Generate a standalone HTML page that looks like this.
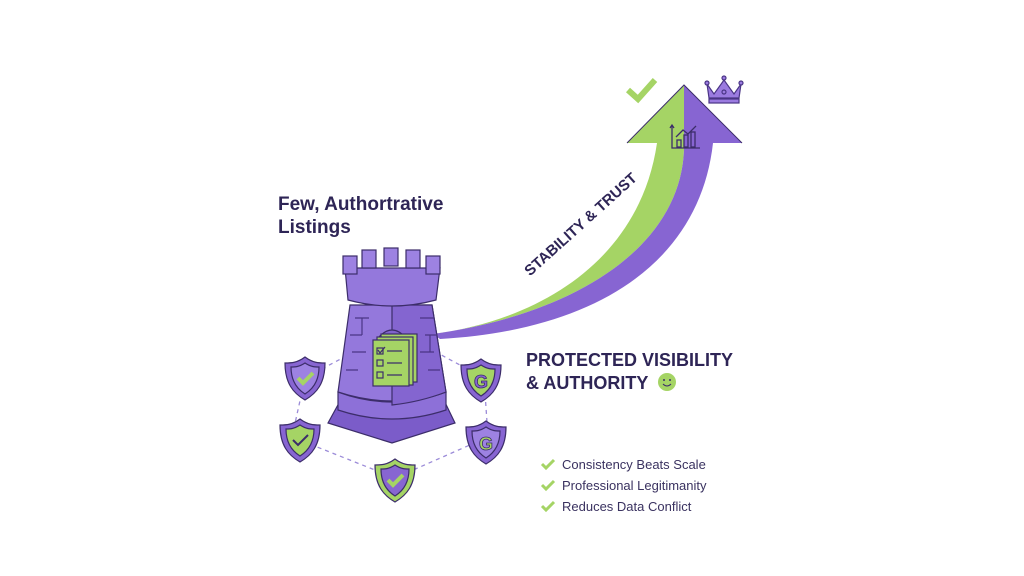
<!DOCTYPE html>
<html><head><meta charset="utf-8"><style>
html,body{margin:0;padding:0;background:#fff;}
svg{display:block;font-family:"Liberation Sans",sans-serif;}
</style></head><body>
<svg width="1024" height="576" viewBox="0 0 1024 576" xmlns="http://www.w3.org/2000/svg">
<rect width="1024" height="576" fill="#fff"/>
<!-- arrow -->
<path d="M433,334 C540,320 640,260 657,143 L627,143 L684,85 L684,150 C680,250 570,315 433,334 Z" fill="#a5d465"/>
<path d="M433,334 C570,315 680,250 684,150 L684,85 L742,143 L713,143 C700,260 600,330 440,339 Z" fill="#8765d2"/>
<path d="M627,143 L684,85 L742,143" fill="none" stroke="#3c2d6a" stroke-width="1"/>
<!-- chart icon -->
<g fill="none" stroke="#3c2d6a" stroke-width="1.3">
<path d="M672,125 V148 H700"/><path d="M670,128 L672,125 L674,128"/>
<rect x="677" y="140" width="4" height="7"/><rect x="684" y="135" width="4" height="12"/><rect x="691" y="132" width="4" height="15"/>
<path d="M676,137 L683,130 L688,134 L696,126"/>
</g>
<!-- check top -->
<path d="M628,90 L638,99 L655,80" fill="none" stroke="#a5d465" stroke-width="6"/>
<!-- crown -->
<g fill="#9b7be0" stroke="#4a3585" stroke-width="1.2">
<path d="M707,84 L714,94 L724,80 L734,94 L741,84 L739,98 L709,98 Z"/>
<rect x="709" y="99" width="30" height="4"/>
<circle cx="707" cy="83" r="2"/><circle cx="724" cy="78" r="2"/><circle cx="741" cy="83" r="2"/>
<circle cx="724" cy="92" r="2"/>
</g>
<text x="0" y="0" transform="translate(584,228) rotate(-42)" text-anchor="middle" font-size="15" font-weight="bold" fill="#2e2556">STABILITY &amp; TRUST</text>
<!-- dashed hexagon -->
<path d="M305,378 L292,437 L395,478 L488,437 L484,378 L395,330 Z" fill="none" stroke="#9b8bd8" stroke-width="1.3" stroke-dasharray="4,4"/>
<!-- tower -->
<g stroke="#3c2d6a" stroke-width="1.2">
<path d="M345,392 L328,423 L392,443 L455,423 L440,392 Z" fill="#7b5cc9"/>
<path d="M338,392 Q392,412 446,392 L446,410 Q392,428 338,410 Z" fill="#8d70d8"/>
<path d="M350,305 L432,305 L446,392 Q392,410 338,392 Z" fill="#9478dc"/>
<path d="M392,305 L392,405 Q420,402 446,392 L432,305 Z" fill="#8465d0"/>
<path d="M345,268 L440,268 L436,300 Q392,312 348,300 Z" fill="#9478dc"/>
<g fill="#9d82e2">
<rect x="343" y="256" width="14" height="18"/><rect x="362" y="250" width="14" height="18"/><rect x="384" y="248" width="14" height="18"/><rect x="406" y="250" width="14" height="18"/><rect x="426" y="256" width="14" height="18"/>
</g>
<path d="M355,318 h14 M350,335 h12 M352,352 h14 M346,370 h12 M420,318 h14 M425,335 h12 M420,352 h14 M428,370 h12 M362,318 v17 M430,335 v17" fill="none" stroke="#4a3585"/>
<path d="M378,338 Q392,322 406,338" fill="#8063cc"/>
<rect x="381" y="334" width="36" height="48" fill="#a5d465"/>
<rect x="377" y="337" width="36" height="48" fill="#a5d465"/>
<rect x="373" y="340" width="36" height="46" fill="#a5d465"/>
<g fill="none" stroke="#3c2d6a"><rect x="377" y="348" width="6" height="6"/><rect x="377" y="360" width="6" height="6"/><rect x="377" y="372" width="6" height="6"/>
<path d="M387,351 h15 M387,363 h15 M387,375 h15"/><path d="M378,350 l2,3 l5,-6"/></g>
</g>
<!-- shields -->
<g stroke="#3c2d6a" stroke-width="1.2">
<g transform="translate(305,378)"><path d="M0,-21 C8,-15 14,-15 20,-15 C20,5 12,15 0,22 C-12,15 -20,5 -20,-15 C-14,-15 -8,-15 0,-21Z" fill="#8765d2"/><path d="M0,-15 C6,-11 10,-11 14,-11 C14,3 8,11 0,16 C-8,11 -14,3 -14,-11 C-10,-11 -6,-11 0,-15Z" fill="#9d82e2"/><path d="M-7,0 L-2,5 L8,-5" fill="none" stroke="#a5d465" stroke-width="4"/></g>
<g transform="translate(300,440)"><path d="M0,-21 C8,-15 14,-15 20,-15 C20,5 12,15 0,22 C-12,15 -20,5 -20,-15 C-14,-15 -8,-15 0,-21Z" fill="#8765d2"/><path d="M0,-15 C6,-11 10,-11 14,-11 C14,3 8,11 0,16 C-8,11 -14,3 -14,-11 C-10,-11 -6,-11 0,-15Z" fill="#a5d465"/><path d="M-7,0 L-2,5 L8,-5" fill="none" stroke="#3c2d6a" stroke-width="2"/></g>
<g transform="translate(395,480)"><path d="M0,-21 C8,-15 14,-15 20,-15 C20,5 12,15 0,22 C-12,15 -20,5 -20,-15 C-14,-15 -8,-15 0,-21Z" fill="#a5d465"/><path d="M0,-15 C6,-11 10,-11 14,-11 C14,3 8,11 0,16 C-8,11 -14,3 -14,-11 C-10,-11 -6,-11 0,-15Z" fill="#8765d2"/><path d="M-7,0 L-2,5 L8,-5" fill="none" stroke="#a5d465" stroke-width="4"/></g>
<g transform="translate(486,442)"><path d="M0,-21 C8,-15 14,-15 20,-15 C20,5 12,15 0,22 C-12,15 -20,5 -20,-15 C-14,-15 -8,-15 0,-21Z" fill="#8765d2"/><path d="M0,-15 C6,-11 10,-11 14,-11 C14,3 8,11 0,16 C-8,11 -14,3 -14,-11 C-10,-11 -6,-11 0,-15Z" fill="#9d82e2"/></g>
<g transform="translate(481,380)"><path d="M0,-21 C8,-15 14,-15 20,-15 C20,5 12,15 0,22 C-12,15 -20,5 -20,-15 C-14,-15 -8,-15 0,-21Z" fill="#8765d2"/><path d="M0,-15 C6,-11 10,-11 14,-11 C14,3 8,11 0,16 C-8,11 -14,3 -14,-11 C-10,-11 -6,-11 0,-15Z" fill="#a5d465"/></g>
</g>
<text x="486" y="450" text-anchor="middle" font-size="18" font-weight="bold" fill="#a5d465" stroke="#3c2d6a" stroke-width="0.8">G</text>
<text x="481" y="388" text-anchor="middle" font-size="18" font-weight="bold" fill="#8765d2" stroke="#3c2d6a" stroke-width="0.8">G</text>
<!-- texts -->
<g fill="#2e2556" font-weight="bold">
<text x="278" y="210" font-size="19">Few, Authortrative</text>
<text x="278" y="233" font-size="19">Listings</text>
<text x="526" y="366" font-size="18">PROTECTED VISIBILITY</text>
<text x="526" y="389" font-size="18">&amp; AUTHORITY</text>
</g>
<circle cx="667" cy="382" r="9" fill="#a5d465"/>
<circle cx="664" cy="380" r="1" fill="#3c2d6a"/><circle cx="670" cy="380" r="1" fill="#3c2d6a"/>
<path d="M663,384 Q667,388 671,384" fill="none" stroke="#3c2d6a" stroke-width="1"/>
<g fill="none" stroke="#a5d465" stroke-width="3">
<path d="M542,464 L546,468 L554,460"/><path d="M542,485 L546,489 L554,481"/><path d="M542,506 L546,510 L554,502"/>
</g>
<g fill="#3a3260" font-size="13">
<text x="562" y="469">Consistency Beats Scale</text>
<text x="562" y="490">Professional Legitimanity</text>
<text x="562" y="511">Reduces Data Conflict</text>
</g>
</svg>
</body></html>
